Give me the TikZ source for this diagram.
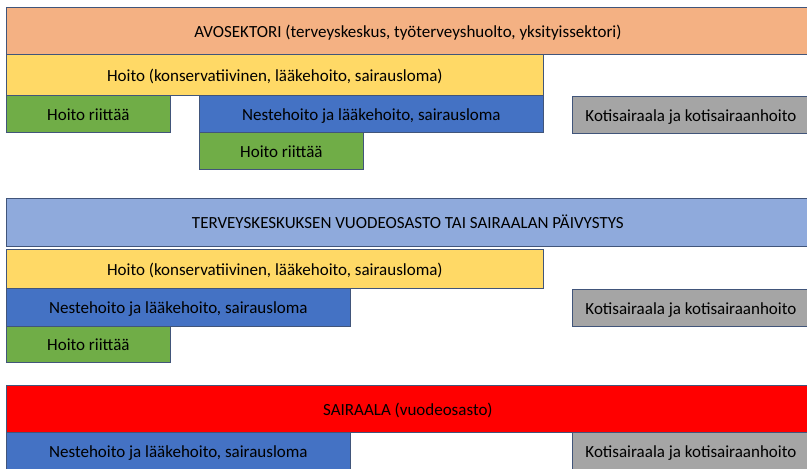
\documentclass[tikz,border=0pt]{standalone}
\usepackage{fontspec}
\setmainfont{Carlito}
\definecolor{peach}{HTML}{F4B183}
\definecolor{yel}{HTML}{FFD966}
\definecolor{grn}{HTML}{70AD47}
\definecolor{blu}{HTML}{4472C4}
\definecolor{lblu}{HTML}{8FAADC}
\definecolor{gry}{HTML}{A5A5A5}
\definecolor{red0}{HTML}{FF0000}
\definecolor{edge}{HTML}{41557A}
\tikzset{
  box/.style={draw=edge, line width=0.8pt, rectangle, inner sep=0pt, anchor=north west,
    text height=14pt, text depth=1pt,
    font=\fontsize{17}{19}\selectfont, text=black},
}
\begin{document}
\begin{tikzpicture}[x=1pt,y=-1pt]
\fill[white] (0,0) rectangle (807,469);
\useasboundingbox (0,0) rectangle (807,469);
\clip (0,0) rectangle (807,469);
% section 1
\node[box, fill=peach, minimum width=803pt, minimum height=47pt] (avo) at (6,7) {AVOSEKTORI (terveyskeskus, työterveyshuolto, yksityissektori)};
\node[box, fill=yel, minimum width=537pt, minimum height=41pt] (h1) at (6,54) {Hoito (konservatiivinen, lääkehoito, sairausloma)};
\node[box, fill=grn, minimum width=164pt, minimum height=37pt] (r1) at (6,95) {Hoito riittää};
\node[box, fill=blu, minimum width=344pt, minimum height=37pt] (n1) at (199,95) {Nestehoito ja lääkehoito, sairausloma};
\node[box, fill=grn, minimum width=164pt, minimum height=37pt] (r2) at (199,132) {Hoito riittää};
\node[box, fill=gry, minimum width=237pt, minimum height=37pt] (k1) at (572,96) {Kotisairaala ja kotisairaanhoito};
% section 2
\node[box, fill=lblu, minimum width=803pt, minimum height=48pt] (tk) at (6,198) {TERVEYSKESKUKSEN VUODEOSASTO TAI SAIRAALAN PÄIVYSTYS};
\node[box, fill=yel, minimum width=537pt, minimum height=39pt] (h2) at (6,249) {Hoito (konservatiivinen, lääkehoito, sairausloma)};
\node[box, fill=blu, minimum width=344pt, minimum height=38pt] (n2) at (6,288) {Nestehoito ja lääkehoito, sairausloma};
\node[box, fill=grn, minimum width=164pt, minimum height=36pt] (r3) at (6,326) {Hoito riittää};
\node[box, fill=gry, minimum width=237pt, minimum height=37pt] (k2) at (572,289) {Kotisairaala ja kotisairaanhoito};
% section 3
\node[box, fill=red0, minimum width=803pt, minimum height=47pt] (sa) at (6,385) {SAIRAALA (vuodeosasto)};
\node[box, fill=blu, minimum width=344pt, minimum height=37pt] (n3) at (6,432) {Nestehoito ja lääkehoito, sairausloma};
\node[box, fill=gry, minimum width=237pt, minimum height=37pt] (k3) at (572,432) {Kotisairaala ja kotisairaanhoito};
\end{tikzpicture}
\end{document}
